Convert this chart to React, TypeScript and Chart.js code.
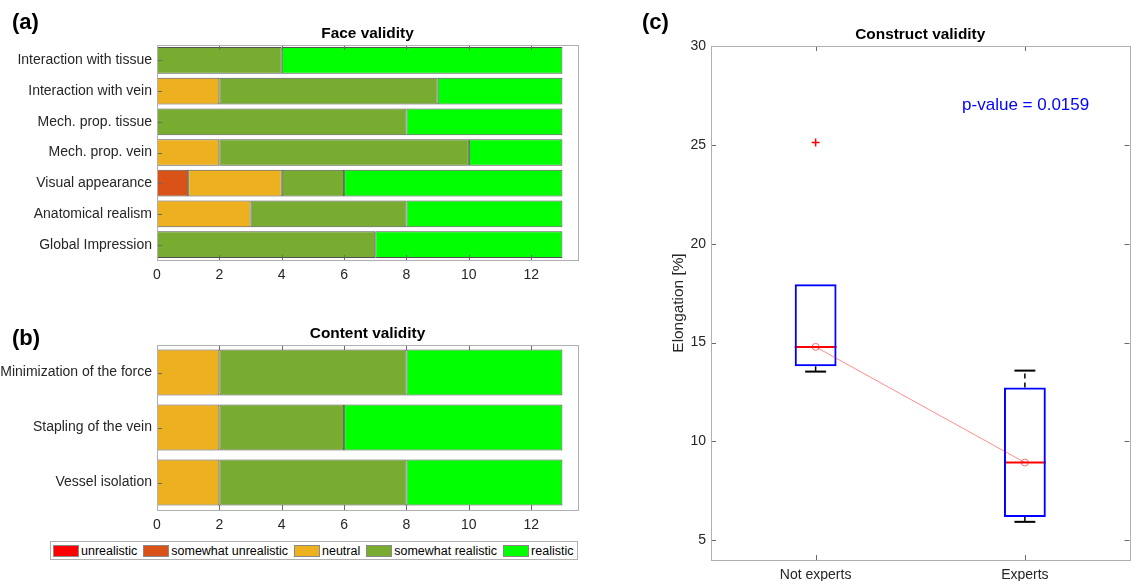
import React, { useEffect, useRef } from 'react';
import { Chart, registerables } from 'chart.js';

Chart.register(...registerables);

// ---------------- data ----------------
const legendLabels = ['unrealistic', 'somewhat unrealistic', 'neutral', 'somewhat realistic', 'realistic'];
const legendColors = ['#ff0000', '#d95319', '#edb120', '#77ac30', '#00ff00'];

const faceCategories = [
  'Interaction with tissue',
  'Interaction with vein',
  'Mech. prop. tissue',
  'Mech. prop. vein',
  'Visual appearance',
  'Anatomical realism',
  'Global Impression',
];
const faceUnrealistic = [0, 0, 0, 0, 0, 0, 0];
const faceSomewhatUnrealistic = [0, 0, 0, 0, 1, 0, 0];
const faceNeutral = [0, 2, 0, 2, 3, 3, 0];
const faceSomewhatRealistic = [4, 7, 8, 8, 2, 5, 7];
const faceRealistic = [9, 4, 5, 3, 7, 5, 6];

const contentCategories = ['Minimization of the force', 'Stapling of the vein', 'Vessel isolation'];
const contentUnrealistic = [0, 0, 0];
const contentSomewhatUnrealistic = [0, 0, 0];
const contentNeutral = [2, 2, 2];
const contentSomewhatRealistic = [6, 4, 6];
const contentRealistic = [5, 7, 5];

const countTicks = [0, 2, 4, 6, 8, 10, 12];
const countMax = 13.5;

const groups = ['Not experts', 'Experts'];
const groupPositions = [1, 2];
const boxQ1 = [13.8, 6.18];
const boxQ3 = [17.95, 12.72];
const boxMedian = [14.78, 8.93];
const whiskerLow = [13.53, 5.93];
const whiskerHigh = [17.95, 13.58];
const outlierPositions = [1];
const outlierValues = [25.12];
const elongTicks = [5, 10, 15, 20, 25, 30];
const elongMin = 4;
const elongMax = 30;
const pValueText = 'p-value = 0.0159';
const pValueAnchor = { x: 1.7, y: 27 };

// ---------------- styles ----------------
const FONT = '"Liberation Sans", Arial, Helvetica, sans-serif';
const TICK_COLOR = '#262626';
const BOX_COLOR = '#b0b0b0';
const TICKMARK_COLOR = '#6a6a6a';
const BOX_FRACTION = 0.2;
const CAP_HALF = 0.05;

// ---------------- plugins ----------------
const framePlugin = {
  id: 'frame',
  afterDatasetsDraw(chart: any, _args: any, opts: any) {
    const { ctx, chartArea: a } = chart;
    const xs = chart.scales.x;
    const ys = chart.scales.y;
    const L = 5;
    ctx.save();
    ctx.lineWidth = 1;
    ctx.strokeStyle = TICKMARK_COLOR;
    ctx.beginPath();
    xs.ticks.forEach((_t: any, i: number) => {
      const px = Math.round(xs.getPixelForTick(i)) + 0.5;
      if (opts.xTop) { ctx.moveTo(px, a.top); ctx.lineTo(px, a.top + L); }
      if (opts.xBottom) { ctx.moveTo(px, a.bottom); ctx.lineTo(px, a.bottom - L); }
    });
    ys.ticks.forEach((_t: any, i: number) => {
      const py = Math.round(ys.getPixelForTick(i)) + 0.5;
      if (opts.yLeft) { ctx.moveTo(a.left, py); ctx.lineTo(a.left + L, py); }
      if (opts.yRight) { ctx.moveTo(a.right, py); ctx.lineTo(a.right - L, py); }
    });
    ctx.stroke();
    ctx.strokeStyle = BOX_COLOR;
    ctx.strokeRect(
      Math.round(a.left) + 0.5,
      Math.round(a.top) + 0.5,
      Math.round(a.right - a.left),
      Math.round(a.bottom - a.top)
    );
    ctx.restore();
  },
};

const titlePlugin = {
  id: 'panelTitle',
  afterDraw(chart: any, _args: any, opts: any) {
    if (!opts.text) return;
    const { ctx, chartArea: a } = chart;
    ctx.save();
    ctx.font = `bold 15.4px ${FONT}`;
    ctx.fillStyle = '#000';
    ctx.textAlign = 'center';
    ctx.textBaseline = 'middle';
    ctx.fillText(opts.text, (a.left + a.right) / 2, a.top - opts.gap);
    ctx.restore();
  },
};

const whiskerPlugin = {
  id: 'whiskers',
  beforeDatasetsDraw(chart: any) {
    const { ctx } = chart;
    const xs = chart.scales.x;
    const ys = chart.scales.y;
    ctx.save();
    groupPositions.forEach((pos, i) => {
      const cx = xs.getPixelForValue(pos);
      const capL = xs.getPixelForValue(pos - CAP_HALF);
      const capR = xs.getPixelForValue(pos + CAP_HALF);
      const boxL = xs.getPixelForValue(pos - BOX_FRACTION / 2);
      const boxR = xs.getPixelForValue(pos + BOX_FRACTION / 2);
      const ends: Array<[number, number]> = [
        [boxQ3[i], whiskerHigh[i]],
        [boxQ1[i], whiskerLow[i]],
      ];
      ends.forEach(([from, to]) => {
        if (from === to) return;
        const y0 = ys.getPixelForValue(from);
        const y1 = ys.getPixelForValue(to);
        ctx.strokeStyle = '#000';
        ctx.lineWidth = 1.5;
        ctx.setLineDash([5, 4]);
        ctx.beginPath();
        ctx.moveTo(cx, y0);
        ctx.lineTo(cx, y1);
        ctx.stroke();
        ctx.setLineDash([]);
        ctx.lineWidth = 2;
        ctx.beginPath();
        ctx.moveTo(capL, y1);
        ctx.lineTo(capR, y1);
        ctx.stroke();
      });
      ctx.strokeStyle = '#ff0000';
      ctx.lineWidth = 2;
      ctx.beginPath();
      const my = ys.getPixelForValue(boxMedian[i]);
      ctx.moveTo(boxL, my);
      ctx.lineTo(boxR, my);
      ctx.stroke();
    });
    ctx.restore();
  },
};

const annotationPlugin = {
  id: 'annotations',
  afterDraw(chart: any) {
    const { ctx, chartArea: a } = chart;
    const xs = chart.scales.x;
    const ys = chart.scales.y;
    ctx.save();
    ctx.font = `17px ${FONT}`;
    ctx.fillStyle = '#0000ff';
    ctx.textAlign = 'left';
    ctx.textBaseline = 'middle';
    ctx.fillText(pValueText, xs.getPixelForValue(pValueAnchor.x), ys.getPixelForValue(pValueAnchor.y));
    ctx.translate(a.left - 32, (a.top + a.bottom) / 2);
    ctx.rotate(-Math.PI / 2);
    ctx.font = `15.4px ${FONT}`;
    ctx.fillStyle = TICK_COLOR;
    ctx.textAlign = 'center';
    ctx.fillText('Elongation [%]', 0, 0);
    ctx.restore();
  },
};

// ---------------- configs ----------------
const tickFont = { family: FONT, size: 14 };
const noGrid = { display: false, drawTicks: false, tickLength: 0 };

function stackedConfig(categories: string[], series: number[][], title: string, topPad: number, barPct: number): any {
  return {
    type: 'bar',
    data: {
      labels: categories,
      datasets: legendLabels.map((label, k) => ({
        label,
        data: series[k].map((v) => (v === 0 ? null : v)),
        backgroundColor: legendColors[k],
        borderColor: 'rgba(0,0,0,0.68)',
        borderWidth: 1,
        borderSkipped: false,
        categoryPercentage: 1,
        barPercentage: barPct,
      })),
    },
    options: {
      indexAxis: 'y',
      responsive: false,
      animation: false,
      events: [],
      layout: { padding: { top: topPad, right: 12, left: 0, bottom: 0 } },
      plugins: {
        legend: { display: false },
        tooltip: { enabled: false },
        panelTitle: { text: title, gap: 11 },
        frame: { xTop: true, xBottom: true, yLeft: true, yRight: false },
      },
      scales: {
        x: {
          type: 'linear',
          stacked: true,
          min: 0,
          max: countMax,
          grid: noGrid,
          border: { display: false },
          afterBuildTicks: (s: any) => { s.ticks = countTicks.map((value) => ({ value })); },
          afterFit: (s: any) => { s.height = 30; },
          ticks: { font: tickFont, color: TICK_COLOR, padding: 7, maxRotation: 0 },
        },
        y: {
          stacked: true,
          grid: noGrid,
          border: { display: false },
          afterFit: (s: any) => { s.width = 157; },
          ticks: { font: tickFont, color: TICK_COLOR, padding: 5, autoSkip: false },
        },
      },
    },
    plugins: [framePlugin, titlePlugin],
  };
}

function boxConfig(): any {
  return {
    type: 'bar',
    data: {
      datasets: [
        {
          type: 'line',
          data: groupPositions.map((x, i) => ({ x, y: boxMedian[i] })),
          borderColor: 'rgba(255,0,0,0.45)',
          borderWidth: 1,
          pointStyle: 'circle',
          pointRadius: 3.5,
          pointBorderWidth: 1,
          pointBorderColor: 'rgba(255,0,0,0.55)',
          pointBackgroundColor: 'rgba(0,0,0,0)',
          tension: 0,
          order: 0,
        },
        {
          type: 'scatter',
          data: outlierPositions.map((x, i) => ({ x, y: outlierValues[i] })),
          pointStyle: 'cross',
          pointRadius: 4,
          borderColor: '#ff0000',
          borderWidth: 1.5,
          order: 0,
        },
        {
          type: 'bar',
          data: groupPositions.map((x, i) => ({ x, y: [boxQ1[i], boxQ3[i]] })),
          backgroundColor: 'rgba(0,0,0,0)',
          borderColor: '#0000ff',
          borderWidth: 2,
          borderSkipped: false,
          categoryPercentage: 1,
          barPercentage: BOX_FRACTION,
          order: 1,
        },
      ],
    },
    options: {
      responsive: false,
      animation: false,
      events: [],
      layout: { padding: { top: 46, right: 4, left: 0, bottom: 0 } },
      plugins: {
        legend: { display: false },
        tooltip: { enabled: false },
        panelTitle: { text: 'Construct validity', gap: 11 },
        frame: { xTop: true, xBottom: true, yLeft: true, yRight: true },
      },
      scales: {
        x: {
          type: 'linear',
          offset: false,
          min: 0.5,
          max: 2.5,
          grid: { ...noGrid, offset: false },
          border: { display: false },
          afterBuildTicks: (s: any) => { s.ticks = groupPositions.map((value) => ({ value })); },
          afterFit: (s: any) => { s.height = 21; },
          ticks: {
            font: tickFont,
            color: TICK_COLOR,
            padding: 7,
            maxRotation: 0,
            callback: (v: number) => groups[groupPositions.indexOf(v)] ?? '',
          },
        },
        y: {
          type: 'linear',
          min: elongMin,
          max: elongMax,
          grid: noGrid,
          border: { display: false },
          afterBuildTicks: (s: any) => { s.ticks = elongTicks.map((value) => ({ value })); },
          afterFit: (s: any) => { s.width = 111; },
          ticks: { font: tickFont, color: TICK_COLOR, padding: 5 },
        },
      },
    },
    plugins: [whiskerPlugin, framePlugin, titlePlugin, annotationPlugin],
  };
}

function ChartCanvas({ make, left, top, width, height }: any) {
  const ref = useRef<HTMLCanvasElement | null>(null);
  useEffect(() => {
    const chart = new Chart(ref.current as HTMLCanvasElement, make());
    return () => chart.destroy();
  }, []);
  return (
    <canvas
      ref={ref}
      width={width}
      height={height}
      style={{ position: 'absolute', left, top, width, height }}
    />
  );
}

const panelLabelStyle = (left: number, top: number): React.CSSProperties => ({
  position: 'absolute',
  left,
  top,
  font: `bold 22px ${FONT}`,
  lineHeight: '22px',
  color: '#000',
});

export default function App() {
  return (
    <div
      style={{
        position: 'absolute',
        left: 0,
        top: 0,
        width: 1135,
        height: 581,
        background: '#fff',
        overflow: 'hidden',
        fontFamily: FONT,
      }}
    >
      <ChartCanvas
        left={0}
        top={0}
        width={590}
        height={290}
        make={() =>
          stackedConfig(
            faceCategories,
            [faceUnrealistic, faceSomewhatUnrealistic, faceNeutral, faceSomewhatRealistic, faceRealistic],
            'Face validity',
            45,
            0.87
          )
        }
      />
      <ChartCanvas
        left={0}
        top={290}
        width={590}
        height={250}
        make={() =>
          stackedConfig(
            contentCategories,
            [contentUnrealistic, contentSomewhatUnrealistic, contentNeutral, contentSomewhatRealistic, contentRealistic],
            'Content validity',
            55,
            0.84
          )
        }
      />
      <ChartCanvas left={600} top={0} width={535} height={581} make={boxConfig} />

      <div
        style={{
          position: 'absolute',
          left: 50,
          top: 541,
          width: 528,
          height: 19,
          boxSizing: 'border-box',
          border: `1px solid ${BOX_COLOR}`,
          display: 'flex',
          alignItems: 'center',
          paddingLeft: 2,
          gap: 6,
          font: `12.5px ${FONT}`,
          color: '#000',
          whiteSpace: 'nowrap',
        }}
      >
        {legendLabels.map((label, k) => (
          <div key={label} style={{ display: 'flex', alignItems: 'center' }}>
            <span
              style={{
                display: 'inline-block',
                width: 26,
                height: 12,
                boxSizing: 'border-box',
                background: legendColors[k],
                border: '1px solid #8a8a8a',
                marginRight: 2,
              }}
            />
            <span>{label}</span>
          </div>
        ))}
      </div>

      <div style={panelLabelStyle(12, 11)}>(a)</div>
      <div style={panelLabelStyle(12, 327)}>(b)</div>
      <div style={panelLabelStyle(642, 11)}>(c)</div>
    </div>
  );
}
